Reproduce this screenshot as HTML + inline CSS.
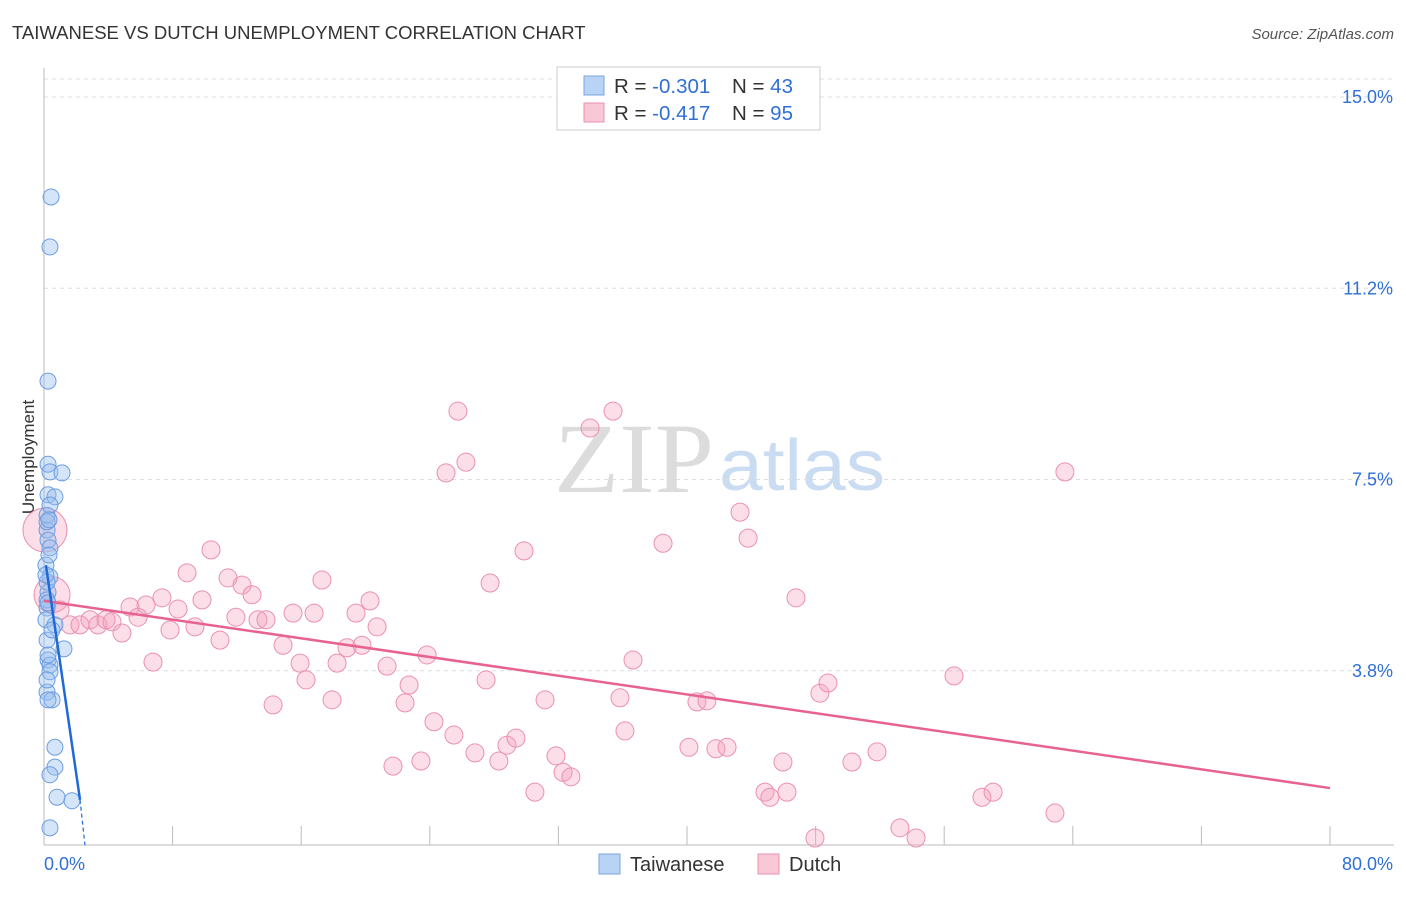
<!DOCTYPE html>
<html><head><meta charset="utf-8"><style>
body{margin:0;background:#fff;font-family:"Liberation Sans",sans-serif}
svg text{font-family:"Liberation Sans",sans-serif}
svg text.serif{font-family:"Liberation Serif",serif}
</style></head><body>
<svg id="c" width="1406" height="892">
<text x="12" y="39" font-size="18.5" fill="#333">TAIWANESE VS DUTCH UNEMPLOYMENT CORRELATION CHART</text>
<text x="1394" y="39" font-size="15" fill="#555" font-style="italic" text-anchor="end">Source: ZipAtlas.com</text>
<text class="serif" x="714" y="492" font-size="100" fill="#dcdcdc" text-anchor="end" textLength="160" lengthAdjust="spacingAndGlyphs">ZIP</text>
<text x="719" y="490" font-size="72" fill="#cadcf2" textLength="166" lengthAdjust="spacingAndGlyphs">atlas</text>
<text x="34" y="457" font-size="17" fill="#333" text-anchor="middle" transform="rotate(-90 34 457)">Unemployment</text>
<g id="grid"></g><g id="marks"></g>
<g>
<rect x="557" y="67" width="263" height="63" fill="#fff" stroke="#ccc"/>
<rect x="584" y="76" width="20" height="19" fill="#b9d3f5" stroke="#7aa6e0"/>
<rect x="584" y="103" width="20" height="19" fill="#f9c8d6" stroke="#eb91ad"/>
<text x="614" y="93" font-size="20.5" fill="#333">R = <tspan fill="#2f6fd6">-0.301</tspan><tspan x="732">N = </tspan><tspan fill="#2f6fd6">43</tspan></text>
<text x="614" y="120" font-size="20.5" fill="#333">R = <tspan fill="#2f6fd6">-0.417</tspan><tspan x="732">N = </tspan><tspan fill="#2f6fd6">95</tspan></text>
</g>
<g>
<rect x="599" y="854" width="21" height="20" fill="#b9d3f5" stroke="#7aa6e0"/>
<text x="630" y="871" font-size="20" fill="#333">Taiwanese</text>
<rect x="758" y="854" width="21" height="20" fill="#f9c8d6" stroke="#eb91ad"/>
<text x="789" y="871" font-size="20" fill="#333">Dutch</text>
</g>
</svg>
<script>
const yTicks=[3.8,7.5,11.2,15.0];
const yTickVals=[3.75,7.5,11.25,15];
const xTickLabels=["0.0%","80.0%"];
const twX=[.44,.37,.25,.25,.37,1.12,.25,.68,.19,.19,.25,.37,.12,.37,.25,.19,.19,.12,.68,1.24,.19,.25,.37,.37,.19,.5,.25,.68,.68,.37,.81,1.74,.37,.19,.25,.19,.12,.31,.19,.37,.31,.5,.25];
const twY=[13.04,12.06,9.43,7.8,7.65,7.63,7.2,7.16,6.8,6.51,6.31,6.16,5.82,5.59,5.29,5.14,4.98,4.75,4.65,4.18,4.35,3.96,3.86,3.73,3.33,3.18,3.18,2.25,1.86,1.71,1.27,1.2,.67,3.57,5.08,5.49,5.63,6.02,6.67,7.0,6.71,4.55,4.06];
const duX=[.06,.5,1,1.62,2.24,2.86,3.36,3.86,4.23,4.85,5.35,5.85,6.35,6.78,7.34,7.84,8.34,8.9,9.39,9.83,10.39,10.95,11.45,11.94,12.32,12.94,13.31,13.81,14.25,14.87,15.49,15.93,16.3,16.8,17.29,17.92,18.23,18.85,19.41,19.78,20.28,20.72,21.34,21.71,22.46,22.71,23.45,23.83,24.26,25.01,25.5,25.75,26.25,26.81,27.5,27.75,28.3,28.8,29.36,29.86,30.54,31.17,31.85,32.29,32.78,33.97,35.4,35.83,36.14,36.64,38.51,40.12,40.62,41.24,41.8,42.49,43.3,43.8,44.85,45.16,45.97,46.22,46.78,47.96,48.27,48.77,50.26,51.82,53.25,54.25,56.61,58.35,59.04,62.89,63.51];
const duY=[6.51,5.24,4.94,4.65,4.65,4.75,4.65,4.75,4.71,4.49,5,4.8,5.04,3.92,5.18,4.55,4.96,5.67,4.61,5.14,6.12,4.35,5.57,4.8,5.43,5.24,4.75,4.75,3.08,4.25,4.88,3.9,3.57,4.88,5.53,3.18,3.9,4.2,4.88,4.25,5.12,4.61,3.84,1.88,3.12,3.47,1.98,4.06,2.75,7.63,2.49,8.84,7.84,2.14,3.57,5.47,1.98,2.29,2.43,6.1,1.37,3.18,2.08,1.76,1.67,8.51,8.84,3.22,2.57,3.96,6.25,2.25,3.14,3.16,2.22,2.25,6.86,6.35,1.37,1.27,1.96,1.37,5.18,.47,3.31,3.51,1.96,2.16,.67,.47,3.65,1.27,1.37,.96,7.65];
const duR=[22,18];
const twLine=[[.12,5.82],[2.24,1.22],[2.55,.33]];
const duLine=[[0,5.12],[80,1.45]];
const X=v=>44+v*16.075, Y=v=>862-v*51;
const NS="http://www.w3.org/2000/svg";
function mk(t,a,p){const e=document.createElementNS(NS,t);for(const k in a)e.setAttribute(k,a[k]);p.appendChild(e);return e;}
const g=document.getElementById('grid'),m=document.getElementById('marks');
yTickVals.forEach((v,i)=>{
 const l=mk('line',{x1:44,x2:1394,y1:Y(v),y2:Y(v),stroke:'#ddd','stroke-dasharray':'4,4'},g);
 
 
 const t=mk('text',{x:1393,y:Y(v)+6,'font-size':18,fill:'#2f6fd6','text-anchor':'end'},g);t.textContent=yTicks[i].toFixed(1)+'%';
 
 
});
const l0=mk('line',{x1:44,x2:1394,y1:Y(15)-18,y2:Y(15)-18,stroke:'#ddd','stroke-dasharray':'4,4'},g);


mk('line',{x1:44,x2:44,y1:68,y2:845,stroke:'#bbb'},g);
mk('line',{x1:44,x2:1394,y1:845,y2:845,stroke:'#bbb'},g);
for(let i=1;i<=10;i++){const tk=mk('line',{x1:X(i*8),x2:X(i*8),y1:826,y2:845,stroke:'#bbb'},g);
 
 }
const t0=mk('text',{x:44,y:870,'font-size':18,fill:'#2f6fd6'},g);t0.textContent=xTickLabels[0];


const t1=mk('text',{x:1393,y:870,'font-size':18,fill:'#2f6fd6','text-anchor':'end'},g);t1.textContent=xTickLabels[1];


duX.forEach((v,i)=>{const c=mk('circle',{cx:X(v),cy:Y(duY[i]),r:duR[i]||9,fill:'rgba(244,160,188,0.35)',stroke:'#eb91ad','stroke-width':1},m);
 
 });
twX.forEach((v,i)=>{const c=mk('circle',{cx:X(v),cy:Y(twY[i]),r:8,fill:'rgba(150,190,240,0.4)',stroke:'#6d9de0','stroke-width':1},m);
 
 });
const dl=mk('line',{x1:X(duLine[0][0]),y1:Y(duLine[0][1]),x2:X(duLine[1][0]),y2:Y(duLine[1][1]),stroke:'#e8628f','stroke-width':2.5},m);


const tl=mk('line',{x1:X(twLine[0][0]),y1:Y(twLine[0][1]),x2:X(twLine[1][0]),y2:Y(twLine[1][1]),stroke:'#1f6ad8','stroke-width':2.5},m);


const td=mk('line',{x1:X(twLine[1][0]),y1:Y(twLine[1][1]),x2:X(twLine[2][0]),y2:Y(twLine[2][1]),stroke:'#1f6ad8','stroke-width':1.2,'stroke-dasharray':'4,3'},m);


</script>
</body></html>
